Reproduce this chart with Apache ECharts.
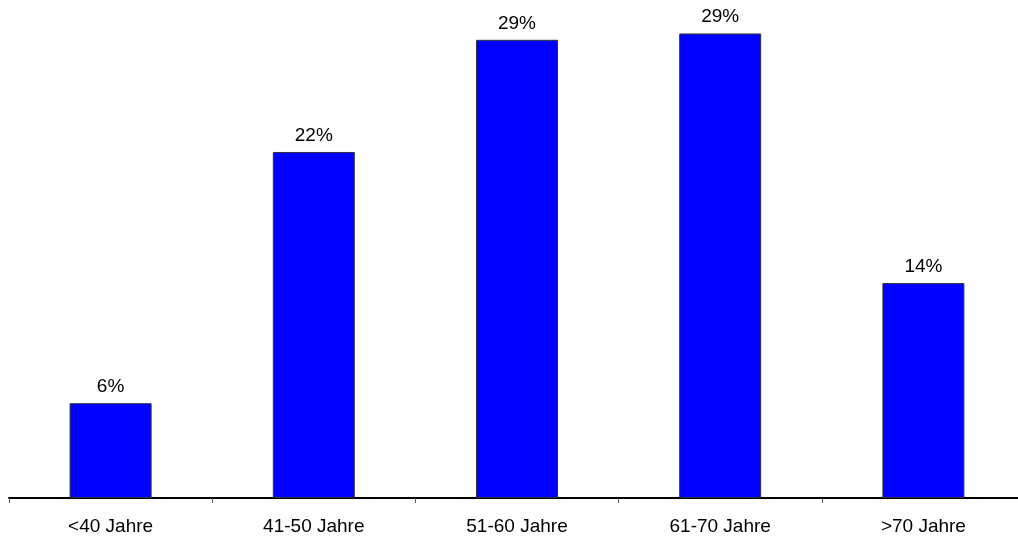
<!DOCTYPE html>
<html>
<head>
<meta charset="utf-8">
<script src="https://cdn.jsdelivr.net/npm/echarts@6/dist/echarts.min.js"></script>
<style>
  html, body { margin: 0; padding: 0; background: #ffffff; }
  #chart { width: 1018px; height: 543px; }
</style>
</head>
<body>
<div id="chart"></div>
<script>
// Altersgruppen und Anteile (in Prozent)
const categories = ['<40 Jahre', '41-50 Jahre', '51-60 Jahre', '61-70 Jahre', '>70 Jahre'];
const shares = [6.0, 21.9, 29.0, 29.4, 13.6];

const chart = echarts.init(document.getElementById('chart'));

chart.setOption({
  animation: false,
  backgroundColor: '#ffffff',
  // the plot runs a little past the right edge, so the last category is cut off
  grid: { left: 9, width: 1016, top: 24, bottom: 45, containLabel: false, outerBoundsMode: 'none' },
  xAxis: {
    type: 'category',
    data: categories,
    axisLine: { show: true, lineStyle: { color: '#000000', width: 2 } },
    axisTick: { show: true, alignWithLabel: false, length: 5, lineStyle: { color: '#555555', width: 1 } },
    axisLabel: {
      color: '#000000',
      fontFamily: 'Liberation Sans, Arial, sans-serif',
      fontSize: 19,
      margin: 19
    }
  },
  yAxis: {
    type: 'value',
    min: 0,
    max: 30,
    show: false,
    splitLine: { show: false }
  },
  series: [{
    type: 'bar',
    data: shares,
    barWidth: 82,
    itemStyle: { color: '#0000ff', borderColor: '#333333', borderWidth: 1 },
    label: {
      show: true,
      position: 'top',
      distance: 7,
      color: '#000000',
      fontFamily: 'Liberation Sans, Arial, sans-serif',
      fontSize: 19,
      formatter: p => Math.round(p.value) + '%'
    }
  }]
});
</script>
</body>
</html>
